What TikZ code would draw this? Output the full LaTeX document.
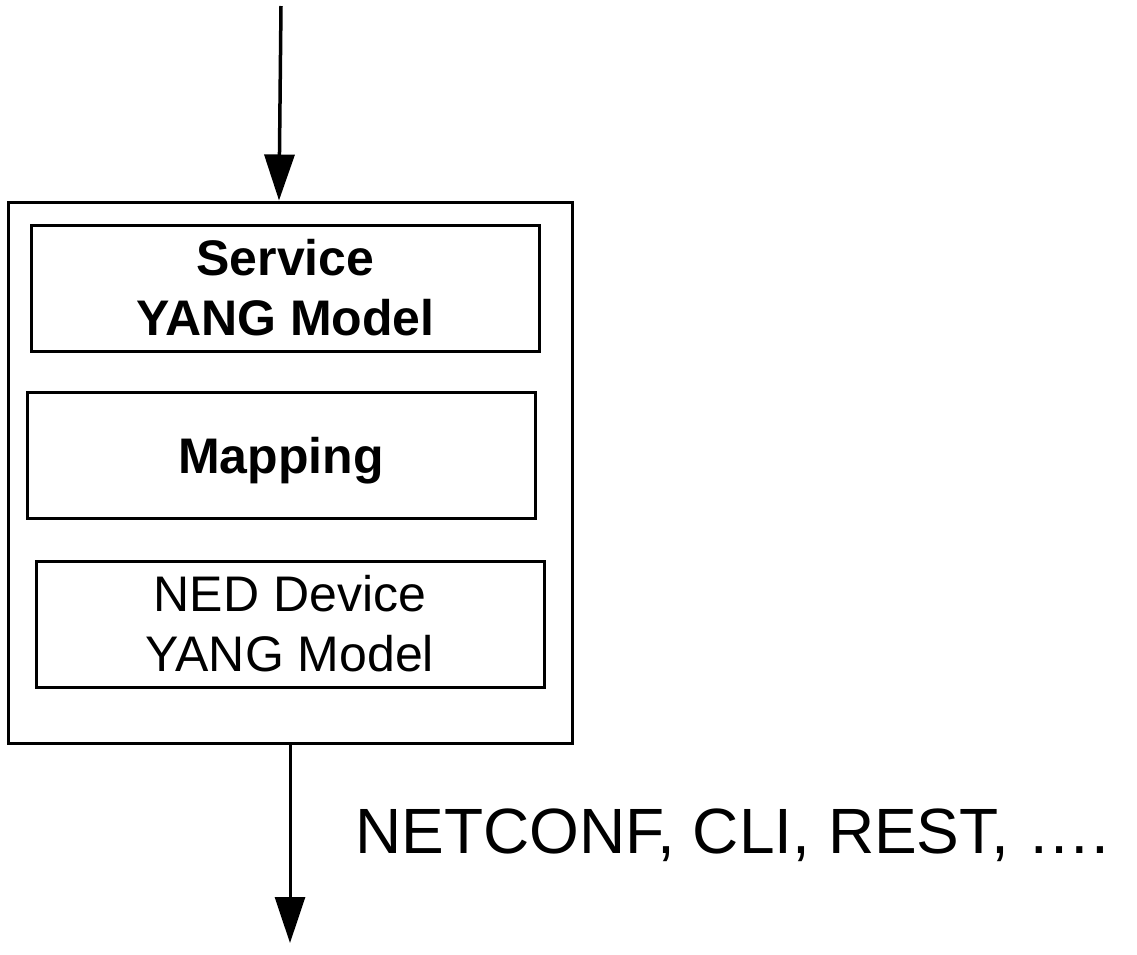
\documentclass[tikz,border=0pt]{standalone}
\usepackage{fontspec}
\setmainfont{Liberation Sans}
\usetikzlibrary{arrows.meta}
\newcommand\layerW{508pt}
\newcommand\layerH{126pt}
\newcommand\boxFont{\fontsize{50}{60}\selectfont}
\tikzset{
    layer/.style={draw, line width=3pt, minimum width=\layerW, minimum height=\layerH, inner sep=0pt, align=center, font=\boxFont},
    flow/.style={line width=3.5pt, -{Triangle[length=46pt, width=30pt]}},
}

\begin{document}
\begin{tikzpicture}[x=1pt, y=-1pt]
        \useasboundingbox (0,0) rectangle (1137,954);

        % the stack
        \node[draw, line width=3pt, minimum width=564pt, minimum height=541pt] (stack) at (290,472.5) {};
        \node[layer, font=\boxFont\bfseries] (service) at (285.5,288) {Service\\YANG Model};
        \node[layer, font=\boxFont\bfseries, text depth=0pt] (mapping) at (281,455) {Mapping};
        \node[layer] (ned) at (290,624) {NED Device\\YANG Model};

        % in and out
        \coordinate (in) at (281,6);
        \coordinate (out) at (290,943);
        \draw[flow] (in) -- (279,0 |- stack.north);
        \draw[flow, line width=3pt] (stack.south) -- (out);

        \node[anchor=base west, font=\fontsize{64}{70}\selectfont, inner sep=0pt] (proto) at (355,853) {NETCONF, CLI, REST, ….};

    \end{tikzpicture}
\end{document}
